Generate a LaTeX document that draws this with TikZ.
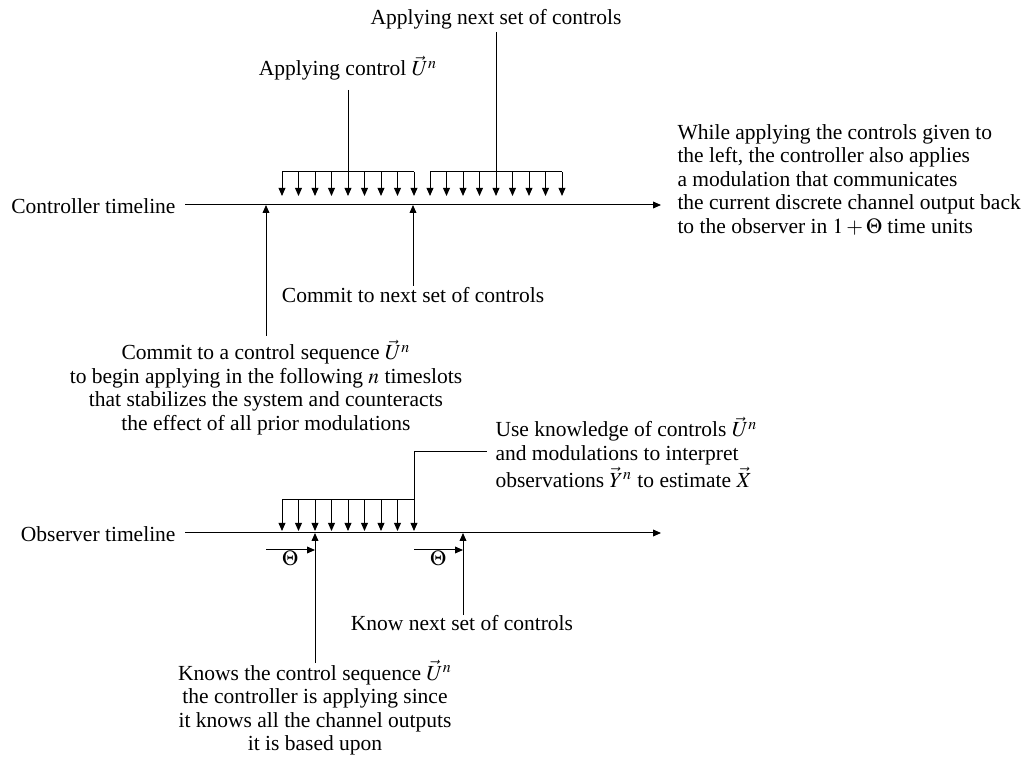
\documentclass[tikz,border=0pt]{standalone}
\usepackage{mathptmx}
\usepackage[no-math]{fontspec}
\setmainfont{Liberation Serif}
\usetikzlibrary{arrows.meta}
\tikzset{
  lbl/.style={inner sep=0pt, font=\fontsize{10.75pt}{11.75pt}\selectfont},
  tip/.style={-{Triangle[length=4pt,width=3.4pt]}},
}
\begin{document}
\begin{tikzpicture}[x=0.5pt,y=-0.5pt,line width=0.5pt]
\useasboundingbox (0,0) rectangle (1033,758);

% ---------------- controller timeline ----------------
\node[lbl,anchor=base east] (ctl) at (176,214) {Controller timeline};
\coordinate (ctlA) at (185,205);
\coordinate (ctlB) at (661,205);
\draw[tip] (ctlA) -- (ctlB);

\foreach \i in {0,...,8} {
  \coordinate (a\i) at (282+16.5*\i,172);
  \coordinate (at\i) at (282+16.5*\i,196);
  \draw[tip] (a\i) -- (at\i);
  \coordinate (b\i) at (430+16.5*\i,172);
  \coordinate (bt\i) at (430+16.5*\i,196);
  \draw[tip] (b\i) -- (bt\i);
}
\draw (a0) -- (a8);
\draw (b0) -- (b8);

\node[lbl,anchor=base] (appnext) at (496,25) {Applying next set of controls};
\coordinate (appnextS) at (496,32);
\draw (appnextS) -- (b4);

\node[lbl,anchor=base] (appctl) at (348,76) {Applying control $\vec{U}^n$};
\coordinate (appctlS) at (348,90);
\draw (appctlS) -- (a4);

\node[lbl,anchor=base west] (note) at (677,139.5) {\begin{tabular}[t]{@{}l@{}}While applying the controls given to\\ the left, the controller also applies\\ a modulation that communicates\\ the current discrete channel output back\\ to the observer in $1+\Theta$ time units\end{tabular}};

\node[lbl,anchor=base] (cnext) at (413,303) {Commit to next set of controls};
\coordinate (cnextN) at (413,286);
\coordinate (cnextT) at (413,205);
\draw[tip] (cnextN) -- (cnextT);

\node[lbl,anchor=base] (cseq) at (266,360) {\begin{tabular}[t]{@{}c@{}}Commit to a control sequence $\vec{U}^n$\\ to begin applying in the following $n$ timeslots\\ that stabilizes the system and counteracts\\ the effect of all prior modulations\end{tabular}};
\coordinate (cseqN) at (266,336);
\coordinate (cseqT) at (266,205);
\draw[tip] (cseqN) -- (cseqT);

% ---------------- observer timeline ----------------
\node[lbl,anchor=base east] (obs) at (176,542) {Observer timeline};
\coordinate (obsA) at (185,533);
\coordinate (obsB) at (661,533);
\draw[tip] (obsA) -- (obsB);

\foreach \i in {0,...,8} {
  \coordinate (c\i) at (282+16.5*\i,500);
  \coordinate (ct\i) at (282+16.5*\i,531);
  \draw[tip] (c\i) -- (ct\i);
}
\draw (c0) -- (c8);
\coordinate (useK) at (414,452);
\coordinate (useE) at (487,452);
\draw (c8) -- (useK) -- (useE);

\node[lbl,anchor=base west] (use) at (495,437) {\begin{tabular}[t]{@{}l@{}}Use knowledge of controls $\vec{U}^n$\\ and modulations to interpret\\ observations $\vec{Y}^n$ to estimate $\vec{X}$\end{tabular}};

\coordinate (th1A) at (266,550);
\coordinate (th1B) at (315,550);
\draw[tip] (th1A) -- (th1B);
\node[lbl,anchor=base] (th1) at (290,566) {$\Theta$};
\coordinate (th2A) at (414,550);
\coordinate (th2B) at (463,550);
\draw[tip] (th2A) -- (th2B);
\node[lbl,anchor=base] (th2) at (438,566) {$\Theta$};

\node[lbl,anchor=base] (knext) at (462,631) {Know next set of controls};
\coordinate (knextN) at (463,615);
\coordinate (knextT) at (463,533);
\draw[tip] (knextN) -- (knextT);

\node[lbl,anchor=base] (kn) at (315,680) {\begin{tabular}[t]{@{}c@{}}Knows the control sequence $\vec{U}^n$\\ the controller is applying since\\ it knows all the channel outputs\\ it is based upon\end{tabular}};
\coordinate (knN) at (315,663);
\coordinate (knT) at (315,533);
\draw[tip] (knN) -- (knT);
\end{tikzpicture}
\end{document}
